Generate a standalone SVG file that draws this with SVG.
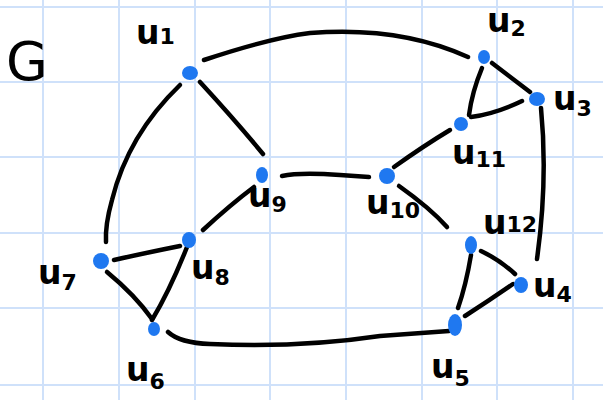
<svg xmlns="http://www.w3.org/2000/svg" width="603" height="400" viewBox="0 0 603 400">
<style>
.grid line{stroke:#cfe1fa;stroke-width:2}
.edges path{fill:none;stroke:#000;stroke-width:4.5;stroke-linecap:round;stroke-linejoin:round}
.node ellipse{fill:#1f78f0}
.lbl{font-family:"DejaVu Sans","Liberation Sans",sans-serif;font-weight:bold;font-size:33px;fill:#000}
.sub{font-size:22px}
</style>
<rect width="603" height="400" fill="#fff"/>
<g class="grid">
<line x1="43" y1="0" x2="43" y2="400"/>
<line x1="119" y1="0" x2="119" y2="400"/>
<line x1="195" y1="0" x2="195" y2="400"/>
<line x1="270" y1="0" x2="270" y2="400"/>
<line x1="346" y1="0" x2="346" y2="400"/>
<line x1="422" y1="0" x2="422" y2="400"/>
<line x1="497" y1="0" x2="497" y2="400"/>
<line x1="573" y1="0" x2="573" y2="400"/>
<line x1="0" y1="7" x2="603" y2="7"/>
<line x1="0" y1="82" x2="603" y2="82"/>
<line x1="0" y1="157" x2="603" y2="157"/>
<line x1="0" y1="233" x2="603" y2="233"/>
<line x1="0" y1="308" x2="603" y2="308"/>
<line x1="0" y1="385" x2="603" y2="385"/>
</g>
<text class="lbl" x="6" y="80" style="font-size:54px;font-weight:normal">G</text>
<g class="edges">
<path d="M204 60 Q270 38 310 33 Q400 26 468 57"/>
<path d="M180 85 Q128 135 112 200 Q105 225 106 242"/>
<path d="M200 82 Q235 120 263 154"/>
<path d="M282 176 Q300 172 340 175 L369 177"/>
<path d="M394 167 Q425 145 450 130"/>
<path d="M482 68 Q472 92 469 115"/>
<path d="M492 63 L530 92"/>
<path d="M471 117 Q495 114 522 101"/>
<path d="M541 108 Q548 180 537 259"/>
<path d="M399 186 Q430 208 447 227"/>
<path d="M254 187 Q230 205 203 230"/>
<path d="M114 260 Q150 252 180 246"/>
<path d="M187 247 Q170 290 152 320"/>
<path d="M107 272 Q135 295 152 319"/>
<path d="M168 332 Q180 343 210 344 Q300 348 380 336 L449 331"/>
<path d="M471 255 Q466 285 458 308"/>
<path d="M481 251 Q500 260 515 274"/>
<path d="M465 316 Q490 300 513 284"/>
</g>
<g id="u1" class="node"><ellipse cx="190" cy="73" rx="8" ry="7"/><text class="lbl" x="136" y="44">u<tspan class="sub">1</tspan></text></g>
<g id="u2" class="node"><ellipse cx="484" cy="57" rx="6" ry="7"/><text class="lbl" x="487" y="32">u<tspan class="sub" dy="4">2</tspan></text></g>
<g id="u3" class="node"><ellipse cx="537" cy="99" rx="8" ry="7"/><text class="lbl" x="553" y="110">u<tspan class="sub" dy="6">3</tspan></text></g>
<g id="u11" class="node"><ellipse cx="461" cy="124" rx="7" ry="7"/><text class="lbl" x="452" y="164">u<tspan class="sub" dy="3">11</tspan></text></g>
<g id="u9" class="node"><ellipse cx="262" cy="175" rx="6" ry="8"/><text class="lbl" x="248" y="207">u<tspan class="sub" dy="5">9</tspan></text></g>
<g id="u10" class="node"><ellipse cx="387" cy="176" rx="8" ry="8"/><text class="lbl" x="366" y="214">u<tspan class="sub" dy="4">10</tspan></text></g>
<g id="u7" class="node"><ellipse cx="101" cy="261" rx="8" ry="8"/><text class="lbl" x="38" y="284">u<tspan class="sub" dy="6">7</tspan></text></g>
<g id="u8" class="node"><ellipse cx="189" cy="240" rx="7" ry="8"/><text class="lbl" x="191" y="279">u<tspan class="sub" dy="6">8</tspan></text></g>
<g id="u6" class="node"><ellipse cx="154" cy="329" rx="6" ry="7"/><text class="lbl" x="126" y="381">u<tspan class="sub" dy="8">6</tspan></text></g>
<g id="u12" class="node"><ellipse cx="471" cy="245" rx="6" ry="9"/><text class="lbl" x="483" y="234">u<tspan class="sub" dy="-2">12</tspan></text></g>
<g id="u4" class="node"><ellipse cx="521" cy="285" rx="7" ry="8"/><text class="lbl" x="533" y="297">u<tspan class="sub" dy="5">4</tspan></text></g>
<g id="u5" class="node"><ellipse cx="455" cy="325" rx="7" ry="11"/><text class="lbl" x="431" y="378">u<tspan class="sub" dy="8">5</tspan></text></g>
</svg>
